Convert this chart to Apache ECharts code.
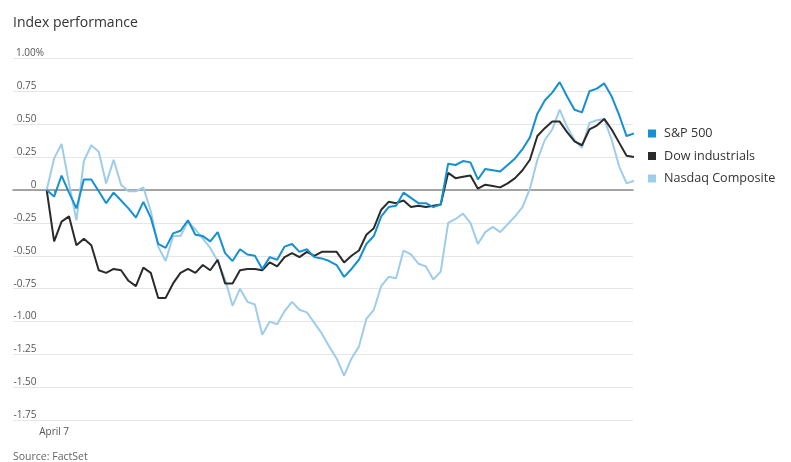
<!DOCTYPE html>
<html>
<head>
<meta charset="utf-8">
<script src="https://cdn.jsdelivr.net/npm/echarts@6/dist/echarts.min.js"></script>
<style>
html,body{margin:0;padding:0;background:#fff;}
#chart{width:791px;height:462px;}
</style>
</head>
<body>
<div id="chart"></div>
<script>
// Categories: previous close, then 5-minute intervals 9:30 .. 16:00
var categories = ['Prev close'];
(function(){
  for (var m = 9*60+30; m <= 16*60; m += 5) {
    var h = Math.floor(m/60), mm = m % 60;
    categories.push(h + ':' + (mm < 10 ? '0' : '') + mm);
  }
})();

var sp500 = [0,-0.05,0.11,-0.02,-0.14,0.08,0.08,-0.01,-0.10,-0.02,
  -0.08,-0.14,-0.21,-0.09,-0.21,-0.41,-0.44,-0.33,-0.31,-0.23,
  -0.34,-0.35,-0.39,-0.32,-0.48,-0.54,-0.45,-0.49,-0.50,-0.60,
  -0.51,-0.53,-0.43,-0.41,-0.47,-0.45,-0.51,-0.52,-0.54,-0.57,
  -0.66,-0.60,-0.53,-0.41,-0.35,-0.20,-0.13,-0.12,-0.02,-0.06,
  -0.10,-0.10,-0.13,-0.11,0.20,0.19,0.22,0.21,0.08,0.16,
  0.15,0.14,0.19,0.24,0.31,0.40,0.58,0.68,0.74,0.82,
  0.71,0.61,0.59,0.75,0.77,0.81,0.71,0.57,0.41,0.43];

var dow = [0,-0.39,-0.24,-0.20,-0.42,-0.37,-0.42,-0.61,-0.63,-0.60,
  -0.61,-0.69,-0.73,-0.59,-0.63,-0.82,-0.82,-0.71,-0.63,-0.60,
  -0.63,-0.57,-0.61,-0.53,-0.71,-0.71,-0.61,-0.60,-0.60,-0.61,
  -0.55,-0.58,-0.51,-0.48,-0.51,-0.47,-0.50,-0.47,-0.47,-0.47,
  -0.55,-0.50,-0.46,-0.34,-0.29,-0.15,-0.09,-0.10,-0.08,-0.13,
  -0.12,-0.13,-0.12,-0.11,0.13,0.09,0.10,0.11,0.01,0.04,
  0.03,0.02,0.05,0.09,0.15,0.23,0.41,0.47,0.52,0.52,
  0.44,0.37,0.34,0.46,0.49,0.54,0.46,0.36,0.26,0.25];

var nasdaq = [0,0.24,0.35,0.05,-0.23,0.22,0.34,0.29,0.05,0.23,
  0.04,-0.01,-0.01,0.02,-0.16,-0.43,-0.54,-0.35,-0.35,-0.24,
  -0.30,-0.37,-0.44,-0.54,-0.68,-0.88,-0.75,-0.85,-0.87,-1.10,
  -1.00,-1.02,-0.92,-0.85,-0.91,-0.93,-1.01,-1.09,-1.19,-1.28,
  -1.41,-1.28,-1.19,-0.98,-0.91,-0.73,-0.66,-0.67,-0.46,-0.49,
  -0.56,-0.58,-0.68,-0.62,-0.25,-0.22,-0.18,-0.25,-0.41,-0.32,
  -0.28,-0.32,-0.26,-0.20,-0.13,0.01,0.23,0.38,0.46,0.61,
  0.48,0.38,0.32,0.51,0.53,0.54,0.38,0.18,0.05,0.07];

var seriesNames = ['S&P 500', 'Dow industrials', 'Nasdaq Composite'];
var xTickLabel = 'April 7';

var FONT = '"Open Sans", "Noto Sans", sans-serif';
var gTop = 58.4, gBottom = 41.7;

var chart = echarts.init(document.getElementById('chart'), null, {renderer: 'canvas'});
chart.setOption({
  animation: false,
  backgroundColor: '#fff',
  title: [{
    text: 'Index performance', left: 13, top: 16, padding: 0,
    textStyle: {fontFamily: FONT, fontSize: 14, fontWeight: 'normal', color: '#333'}
  }, {
    text: 'Source: FactSet', left: 13, top: 452, padding: 0,
    textStyle: {fontFamily: FONT, fontSize: 10.5, fontWeight: 'normal', color: '#666'}
  }],
  legend: {
    orient: 'vertical', left: 643, top: 122,
    itemWidth: 8, itemHeight: 8, itemGap: 9.5, icon: 'rect',
    data: seriesNames,
    textStyle: {fontFamily: FONT, fontSize: 12.6, color: '#333', padding: [0,0,0,3]}
  },
  grid: [
    {left: 13, right: 158, top: gTop, bottom: gBottom},
    {left: 46.7, right: 157, top: gTop, bottom: gBottom}
  ],
  xAxis: [{
    gridIndex: 0, type: 'value', min: 0, max: 1,
    axisLine: {show: true, onZero: true, lineStyle: {color: '#8a8a8a', width: 1.5}},
    axisTick: {show: false}, axisLabel: {show: false}, splitLine: {show: false}
  }, {
    gridIndex: 1, type: 'category', boundaryGap: false, data: categories,
    axisLine: {show: false},
    axisTick: {show: true, length: 3, interval: function(i){ return i === 1; }, lineStyle: {color: '#888'}},
    axisLabel: {show: true, interval: function(i){ return i === 1; },
      formatter: function(v, i){ return i === 1 ? xTickLabel : ''; },
      margin: 7, fontFamily: FONT, fontSize: 10, color: '#555'},
    splitLine: {show: false}
  }],
  yAxis: [{
    gridIndex: 0, type: 'value', min: -1.75, max: 1, interval: 0.25,
    axisLine: {show: false}, axisTick: {show: false},
    splitLine: {show: true, lineStyle: {color: '#e6e6e6', width: 1}},
    axisLabel: {
      inside: true, margin: 31, align: 'right', verticalAlign: 'bottom', padding: [0,0,0,0],
      fontFamily: FONT, fontSize: 10, color: '#555',
      formatter: function(v){
        if (Math.abs(v - 1) < 1e-9) return '{n|1.00%}';
        var s = Math.abs(v) < 1e-9 ? '0' : v.toFixed(2);
        return '{n|' + s + '}{s| }';
      },
      rich: {
        n: {fontFamily: FONT, fontSize: 10, color: '#555'},
        s: {fontFamily: FONT, fontSize: 10, color: '#555', width: 7.5}
      }
    }
  }, {
    gridIndex: 1, type: 'value', min: -1.75, max: 1, interval: 0.25, show: false,
    splitLine: {show: false}
  }],
  series: [{
    name: seriesNames[0], type: 'line', xAxisIndex: 1, yAxisIndex: 1, data: sp500,
    showSymbol: false, symbol: 'none', z: 5,
    lineStyle: {color: '#1590d2', width: 2}, itemStyle: {color: '#1590d2'}
  }, {
    name: seriesNames[1], type: 'line', xAxisIndex: 1, yAxisIndex: 1, data: dow,
    showSymbol: false, symbol: 'none', z: 4,
    lineStyle: {color: '#2b2b2b', width: 2}, itemStyle: {color: '#2b2b2b'}
  }, {
    name: seriesNames[2], type: 'line', xAxisIndex: 1, yAxisIndex: 1, data: nasdaq,
    showSymbol: false, symbol: 'none', z: 3,
    lineStyle: {color: '#9dcdeb', width: 2}, itemStyle: {color: '#9dcdeb'}
  }]
});
</script>
</body>
</html>
